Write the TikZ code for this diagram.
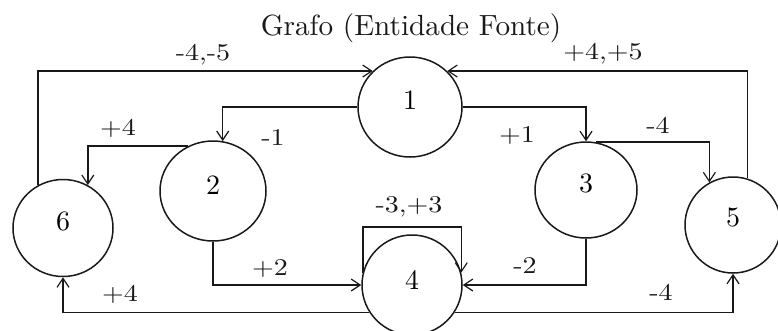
\documentclass[tikz,border=0pt]{standalone}
\usetikzlibrary{arrows.meta,shapes.geometric}
\newcommand\lbltext[1]{\scalebox{2.8}[2.4]{#1}}
\newcommand\numtext[2]{\raisebox{#1}{\scalebox{2.8}{#2}}}
\begin{document}
\begin{tikzpicture}[x=1pt,y=-1pt, line width=1.5pt,
  st/.style={ellipse, draw=black!90, inner sep=0pt},
  lb/.style={inner sep=0pt, text=black!90},
  ar/.style={draw=black!90, -{Straight Barb[length=9pt,width=12pt,line width=1.2pt]}},
]
\useasboundingbox (0,0) rectangle (778,330);
\node[lb] (title) at (411,28) {\scalebox{2.92}{Grafo (Entidade Fonte)}};
\node[st, minimum width=104pt, minimum height=100pt] (n1) at (410,107) {\numtext{14pt}{1}};
\node[st, minimum width=106pt, minimum height=100pt] (n2) at (213,191) {\numtext{12pt}{2}};
\node[st, minimum width=100pt, minimum height=97pt] (n6) at (63,228) {\numtext{14pt}{6}};
\node[st, minimum width=102pt, minimum height=96pt] (n3) at (586,190) {\numtext{14pt}{3}};
\node[st, minimum width=100pt, minimum height=100pt] (n4) at (412,285) {\numtext{10pt}{4}};
\node[st, minimum width=96pt, minimum height=96pt] (n5) at (733,225) {\numtext{16pt}{5}};
\draw[ar] (n6.120) |- (n1.136);
\draw[ar] (n5.73) |- (n1.44);
\draw[ar] (n1.west) -| (n2.79);
\draw[ar] (n1.east) -| (n3.north);
\draw[ar] (n2.119) -| (n6.60);
\draw[ar] (n3.78) -| (n5.119);
\draw[ar] (n2.south) |- (n4.west);
\draw[ar] (n3.south) |- (n4.east);
\draw[ar] (n4.213) -| (n6.south);
\draw[ar] (n4.327) -| (n5.south);
\coordinate (loop) at (412,227);
\draw[ar] (n4.166) |- (loop) -| (n4.14);
\node[lb] (l61) at (203,55) {\lbltext{-4,-5}};
\node[lb] (l51) at (603,54) {\lbltext{+4,+5}};
\node[lb] (l26) at (118,128) {\lbltext{+4}};
\node[lb] (l12) at (273,138) {\lbltext{-1}};
\node[lb] (l13) at (517,135) {\lbltext{+1}};
\node[lb] (l35) at (658,125) {\lbltext{-4}};
\node[lb] (l44) at (409,207) {\lbltext{-3,+3}};
\node[lb] (l24) at (270,268) {\lbltext{+2}};
\node[lb] (l34) at (525,266) {\lbltext{-2}};
\node[lb] (l46) at (120,294) {\lbltext{+4}};
\node[lb] (l45) at (661,292) {\lbltext{-4}};
\end{tikzpicture}
\end{document}
